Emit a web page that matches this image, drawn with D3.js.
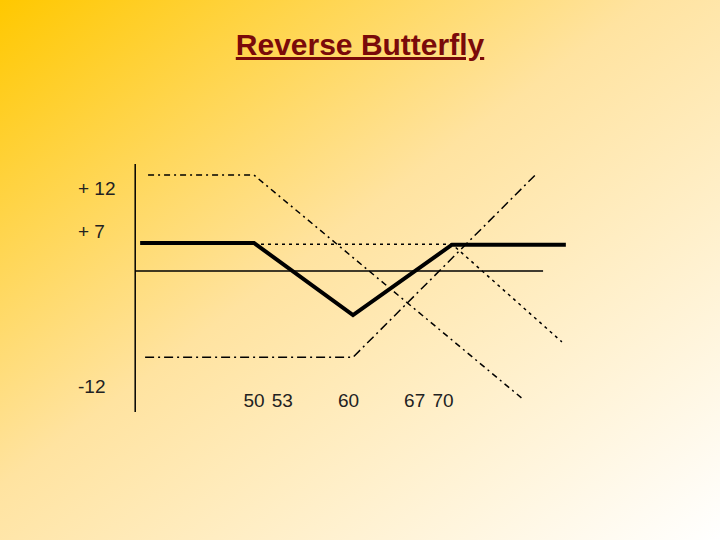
<!DOCTYPE html>
<html><head><meta charset="utf-8">
<script src="https://cdn.jsdelivr.net/npm/d3@7"></script>
<style>html,body{margin:0;padding:0;}</style>
</head><body>
<script>
const title = "Reverse Butterfly";
const yTicks = [12, 7, -12];
const yTickLabels = ["+ 12", "+ 7", "-12"];
const xTicks = [50, 53, 60, 67, 70];
const strategy = [[38.5, 4.9], [50, 4.9], [60, -4.6], [70, 4.6], [81.5, 4.6]];
const shortCalls = [[39.3, 13.5], [50, 13.5], [77.2, -13.4]];
const longCalls = [[39, -9], [60, -9], [78.4, 13.5]];
const otherCalls = [[50, 4.7], [70, 4.7], [81.1, -7.4]];
const zeroLine = [[38, 0], [79.2, 0]];
const axisLine = [[38, 14.8], [38, -14.7]];

const W = 720, H = 540;
const svg = d3.select("body").append("svg").attr("width", W).attr("height", H);
const defs = svg.append("defs");
const g = defs.append("linearGradient").attr("id", "bg").attr("x1", "0").attr("y1", "0").attr("x2", "1").attr("y2", "1");
g.append("stop").attr("offset", "0").attr("stop-color", "#ffc800");
g.append("stop").attr("offset", "0.45").attr("stop-color", "#ffe3a0");
g.append("stop").attr("offset", "1").attr("stop-color", "#ffffff");
svg.append("rect").attr("width", W).attr("height", H).attr("fill", "url(#bg)");

svg.append("text").attr("x", 360).attr("y", 55).attr("text-anchor", "middle")
  .attr("font-family", "Liberation Sans, Arial").attr("font-weight", "bold").attr("font-size", 30)
  .attr("fill", "#7a0a0a").attr("text-decoration", "underline").text(title);

const x = d3.scaleLinear().domain([50, 70]).range([254, 452]);
const xl = d3.scaleLinear().domain([50, 70]).range([254, 443]);
const y = d3.scaleLinear().domain([-12, 0, 7, 12]).range([386, 271, 231, 188]);
const line = d3.line().x(d => x(d[0])).y(d => y(d[1]));

function draw(data, w, dash) {
  svg.append("path").attr("d", line(data)).attr("fill", "none").attr("stroke", "#000")
    .attr("stroke-width", w).attr("stroke-dasharray", dash);
}
draw(axisLine, 1.5, null);
draw(zeroLine, 1.5, null);
draw(shortCalls, 1.5, "6,4,2,4");
draw(longCalls, 1.5, "9,4,2,4");
draw(otherCalls, 1.5, "3,4");
draw(strategy, 4, null);

svg.selectAll(".yt").data(yTicks).enter().append("text")
  .attr("x", 78).attr("y", d => y(d) + 7).attr("font-family", "Liberation Sans, Arial")
  .attr("font-size", 19).attr("fill", "#222").text((d, i) => yTickLabels[i]);
svg.selectAll(".xt").data(xTicks).enter().append("text")
  .attr("x", d => xl(d)).attr("y", 407).attr("text-anchor", "middle")
  .attr("font-family", "Liberation Sans, Arial").attr("font-size", 19).attr("fill", "#222").text(d => d);
</script>
</body></html>
